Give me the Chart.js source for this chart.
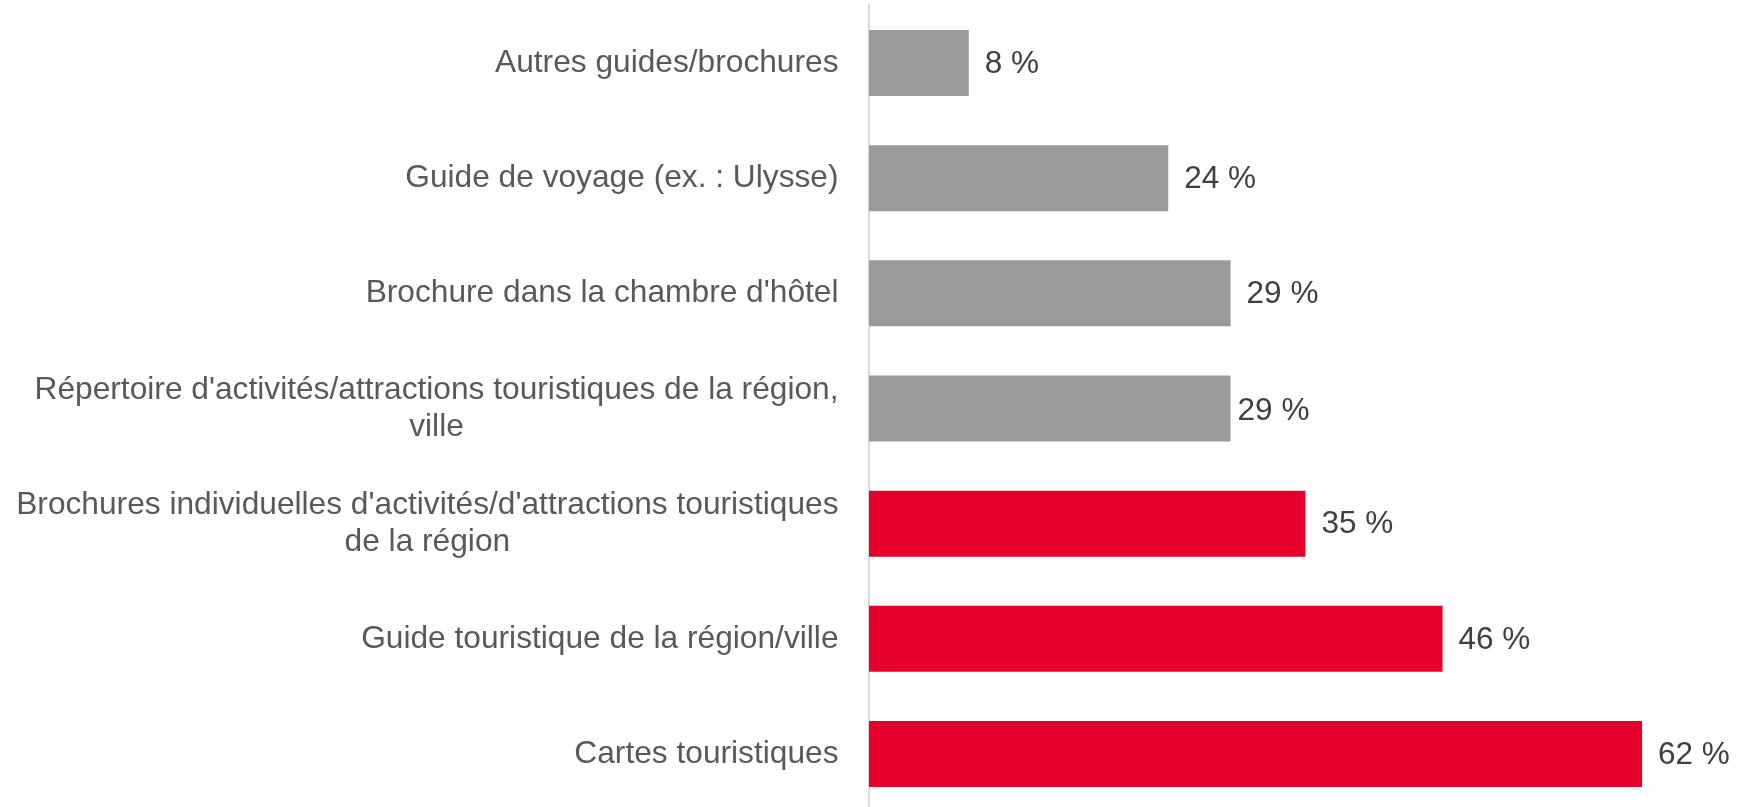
<!DOCTYPE html>
<html lang="fr">
<head>
<meta charset="utf-8">
<title>Sources d'information imprimées consultées</title>
<script src="https://cdn.jsdelivr.net/npm/chart.js@4.4.1/dist/chart.umd.min.js"></script>
<style>
  html, body { margin: 0; padding: 0; background: #ffffff; overflow: hidden; }
  #wrap { width: 1752px; height: 807px; overflow: hidden; }
  canvas { display: block; }
</style>
</head>
<body>
<div id="wrap"><canvas id="chart" width="1752" height="812"></canvas></div>
<script>
// Categories (multi-line labels given as arrays of lines)
const categories = [
  "Autres guides/brochures",
  "Guide de voyage (ex. : Ulysse)",
  "Brochure dans la chambre d'hôtel",
  ["Répertoire d'activités/attractions touristiques de la région,", "ville"],
  ["Brochures individuelles d'activités/d'attractions touristiques", "de la région"],
  "Guide touristique de la région/ville",
  "Cartes touristiques"
];

// Share of respondents (%)
const values = [8, 24, 29, 29, 35, 46, 62];

// Value label text
const valueLabels = values.map(v => v + " %");

const FONT = '"Liberation Sans", Arial, Helvetica, sans-serif';
const GREY = '#9a9a9a';
const RED = '#e4002b';

// Draws the category labels right-aligned as a block, lines centred inside it
const categoryLabelsPlugin = {
  id: 'categoryLabels',
  afterDraw(chart, args, opts) {
    const ctx = chart.ctx;
    const yScale = chart.scales.y;
    ctx.save();
    ctx.font = opts.size + 'px ' + FONT;
    ctx.fillStyle = opts.color;
    ctx.textBaseline = 'middle';
    ctx.textAlign = 'center';
    categories.forEach((label, i) => {
      const lines = Array.isArray(label) ? label : [label];
      const blockW = Math.max(...lines.map(l => ctx.measureText(l).width));
      const cx = opts.right - blockW / 2;
      const yc = yScale.getPixelForValue(i);
      const y0 = yc - (lines.length - 1) * opts.lineHeight / 2;
      lines.forEach((line, k) => ctx.fillText(line, cx, y0 + k * opts.lineHeight));
    });
    ctx.restore();
  }
};

// Draws the value label just past the end of each bar
const valueLabelsPlugin = {
  id: 'valueLabels',
  afterDatasetsDraw(chart, args, opts) {
    const ctx = chart.ctx;
    const meta = chart.getDatasetMeta(0);
    ctx.save();
    ctx.font = opts.size + 'px ' + FONT;
    ctx.fillStyle = opts.color;
    ctx.textBaseline = 'middle';
    ctx.textAlign = 'left';
    meta.data.forEach((bar, i) => {
      const n = opts.nudge[i] || { dx: 0, dy: 0 };
      ctx.fillText(valueLabels[i], bar.x + opts.gap + n.dx, bar.y + 1 + n.dy);
    });
    ctx.restore();
  }
};

new Chart(document.getElementById('chart'), {
  type: 'bar',
  data: {
    labels: categories,
    datasets: [{
      data: values,
      backgroundColor: ctx => (ctx.dataIndex >= 4 ? RED : GREY),
      borderWidth: 0,
      categoryPercentage: 1,
      barPercentage: 0.573
    }]
  },
  options: {
    indexAxis: 'y',
    responsive: false,
    devicePixelRatio: 1,
    animation: false,
    layout: { padding: { top: 5.4, bottom: 0.4, left: 0, right: 10.2 } },
    scales: {
      x: {
        display: false,
        min: 0,
        max: 70
      },
      y: {
        position: 'left',
        grid: { display: false, drawTicks: false },
        border: { display: true, color: '#d9d9d9', width: 2 },
        ticks: { display: false },
        afterFit(scale) { scale.width = 869; }
      }
    },
    plugins: {
      legend: { display: false },
      tooltip: { enabled: false },
      categoryLabels: { size: 31.7, color: '#595959', right: 838.5, lineHeight: 36.7 },
      valueLabels: { size: 31.5, color: '#404040', gap: 16, nudge: { 3: { dx: -9, dy: 2 } } }
    }
  },
  plugins: [categoryLabelsPlugin, valueLabelsPlugin]
});
</script>
</body>
</html>
